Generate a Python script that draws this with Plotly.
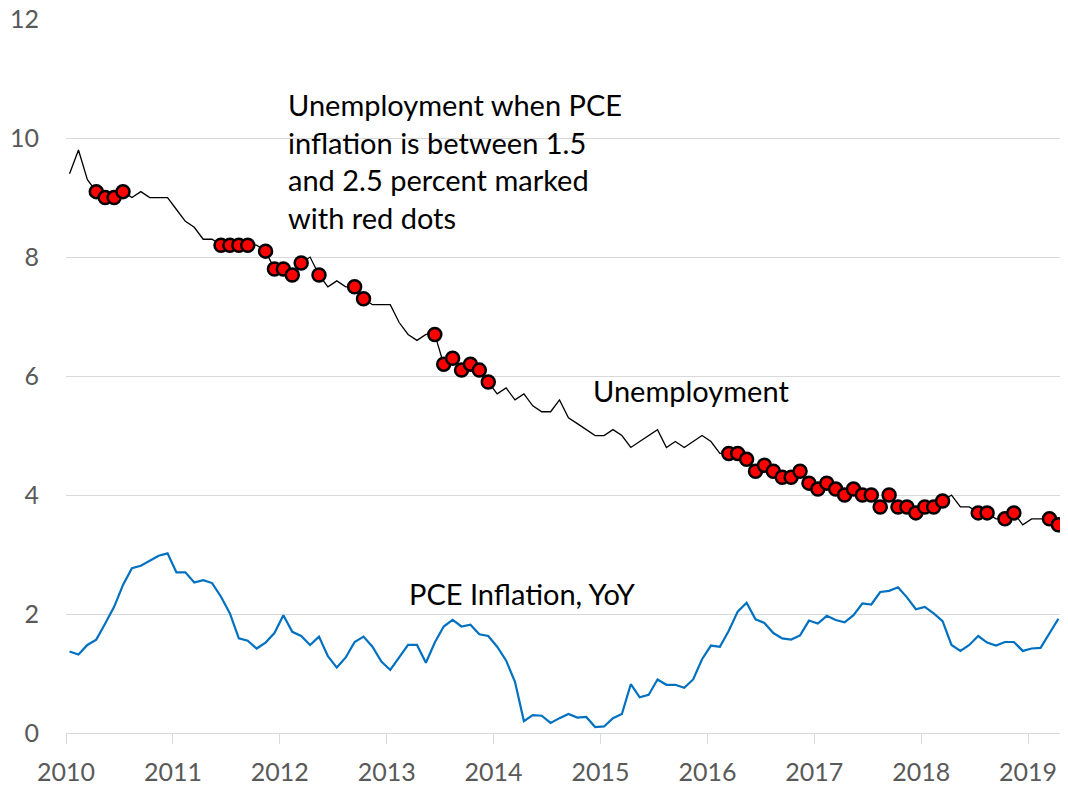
import plotly.graph_objects as go

# Monthly series (first point just after the 2010 tick)
unemployment = [
    9.4, 9.8, 9.3, 9.1, 9.0, 9.0, 9.1, 9.0, 9.1, 9.0, 9.0, 9.0,
    8.8, 8.6, 8.5, 8.3, 8.3, 8.2, 8.2, 8.2, 8.2, 8.2, 8.1, 7.8,
    7.8, 7.7, 7.9, 8.0, 7.7, 7.5, 7.6, 7.5, 7.5, 7.3, 7.2, 7.2,
    7.2, 6.9, 6.7, 6.6, 6.7, 6.7, 6.2, 6.3, 6.1, 6.2, 6.1, 5.9,
    5.7, 5.8, 5.6, 5.7, 5.5, 5.4, 5.4, 5.6, 5.3, 5.2, 5.1, 5.0,
    5.0, 5.1, 5.0, 4.8, 4.9, 5.0, 5.1, 4.8, 4.9, 4.8, 4.9, 5.0,
    4.9, 4.7, 4.7, 4.7, 4.6, 4.4, 4.5, 4.4, 4.3, 4.3, 4.4, 4.2,
    4.1, 4.2, 4.1, 4.0, 4.1, 4.0, 4.0, 3.8, 4.0, 3.8, 3.8, 3.7,
    3.8, 3.8, 3.9, 4.0, 3.8, 3.8, 3.7, 3.7, 3.6, 3.6, 3.7, 3.5,
    3.6, 3.6, 3.6, 3.5,
]

pce_inflation = [
    1.37, 1.32, 1.48, 1.57, 1.84, 2.12, 2.49, 2.77, 2.81, 2.90, 2.98, 3.02,
    2.70, 2.70, 2.53, 2.57, 2.52, 2.29, 2.01, 1.59, 1.55, 1.42, 1.52, 1.68,
    1.98, 1.70, 1.63, 1.48, 1.62, 1.29, 1.10, 1.27, 1.53, 1.62, 1.45, 1.20,
    1.06, 1.27, 1.48, 1.48, 1.18, 1.52, 1.79, 1.90, 1.79, 1.82, 1.66, 1.63,
    1.45, 1.22, 0.86, 0.20, 0.30, 0.29, 0.17, 0.25, 0.32, 0.26, 0.27, 0.10,
    0.11, 0.25, 0.32, 0.82, 0.60, 0.64, 0.90, 0.81, 0.81, 0.76, 0.90, 1.24,
    1.47, 1.45, 1.72, 2.04, 2.19, 1.91, 1.85, 1.68, 1.59, 1.57, 1.64, 1.89,
    1.84, 1.97, 1.90, 1.86, 1.98, 2.18, 2.16, 2.37, 2.39, 2.45, 2.28, 2.08,
    2.12, 2.01, 1.88, 1.48, 1.38, 1.48, 1.63, 1.52, 1.47, 1.53, 1.53, 1.38,
    1.42, 1.43, 1.68, 1.92,
]

year_ticks = [2010, 2011, 2012, 2013, 2014, 2015, 2016, 2017, 2018, 2019]
y_ticks = [0, 2, 4, 6, 8, 10, 12]

band_low, band_high = 1.5, 2.5

n = len(unemployment)
x = [2010 + (i + 0.4) / 12 for i in range(n)]
mask = [band_low <= p <= band_high for p in pce_inflation]
dot_x = [xx for xx, m in zip(x, mask) if m]
dot_y = [u for u, m in zip(unemployment, mask) if m]

FONT = "Lato, 'Open Sans', sans-serif"

fig = go.Figure()
fig.add_trace(go.Scatter(x=x, y=pce_inflation, mode="lines",
                         line=dict(color="#0070C0", width=2.2),
                         name="PCE Inflation, YoY", cliponaxis=False))
fig.add_trace(go.Scatter(x=x, y=unemployment, mode="lines",
                         line=dict(color="#000000", width=1.3),
                         name="Unemployment", cliponaxis=False))
fig.add_trace(go.Scatter(x=dot_x, y=dot_y, mode="markers",
                         marker=dict(color="#FF0000", size=13,
                                     line=dict(color="#000000", width=2.5)),
                         name="PCE 1.5-2.5", cliponaxis=False))

# The page body adds an 8px margin, so the figure is 8px smaller on each side
fig.update_layout(
    width=1060, height=783,
    margin=dict(l=58, r=6, t=11, b=58, autoexpand=False),
    paper_bgcolor="white", plot_bgcolor="white",
    showlegend=False,
    font=dict(family=FONT, color="#595959"),
    xaxis=dict(
        range=[2010, 2010 + 996 / 106.9],
        tickvals=year_ticks, ticktext=[str(t) for t in year_ticks],
        showgrid=False, zeroline=False, automargin=False,
        showline=True, linecolor="#D9D9D9", linewidth=1,
        ticks="outside", ticklen=10, tickcolor="#D9D9D9", tickwidth=1,
        tickfont=dict(size=25, color="#595959", family=FONT),
        ticklabelstandoff=7,
    ),
    yaxis=dict(
        range=[0, 12.002],
        tickvals=y_ticks,
        showgrid=True, gridcolor="#D9D9D9", gridwidth=1,
        zeroline=False, showline=False, ticks="", automargin=False,
        tickfont=dict(size=25, color="#595959", family=FONT),
        ticklabelstandoff=26, ticklabeloverflow="allow",
    ),
    annotations=[
        dict(x=2010 + 220 / 106.9, y=9.62, xref="x", yref="y",
             xanchor="left", yanchor="middle", align="left", showarrow=False,
             text="Unemployment when PCE<br>inflation is between 1.5<br>and 2.5 percent marked<br>with red dots",
             font=dict(size=29, color="#000000", family=FONT)),
        dict(x=2010 + 625 / 106.9, y=5.765, xref="x", yref="y",
             xanchor="center", yanchor="middle", showarrow=False,
             text="Unemployment",
             font=dict(size=29, color="#000000", family=FONT)),
        dict(x=2010 + 456 / 106.9, y=2.353, xref="x", yref="y",
             xanchor="center", yanchor="middle", showarrow=False,
             text="PCE Inflation, YoY",
             font=dict(size=29, color="#000000", family=FONT)),
    ],
)

fig.write_html("out.html")
